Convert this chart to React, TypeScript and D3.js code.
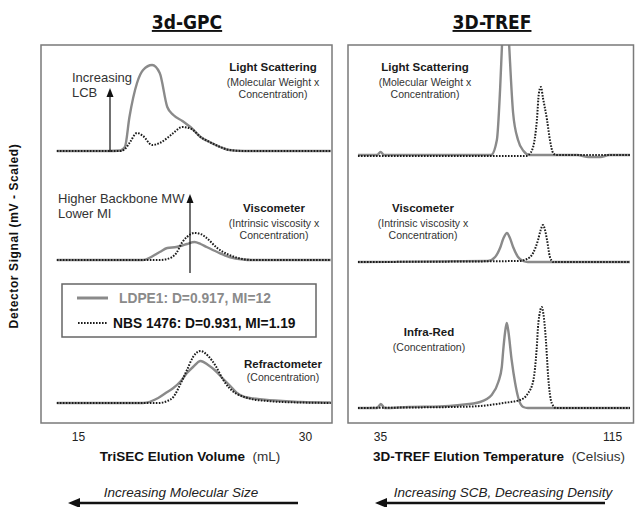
import React, { useEffect, useRef } from 'react';
import * as d3 from 'd3';

type Pt = [number, number];

// 3d-GPC traces: [elution volume mL, signal above the trace baseline]
const gpcTicks = [15, 30];
const gpcLsLdpe: Pt[] = [[13.6, 0], [17.0, 0], [17.8, 0.5], [18.1, 4], [18.4, 34], [18.9, 68], [19.3, 81], [19.9, 86], [20.4, 78], [20.9, 44], [21.3, 36], [21.9, 30], [22.5, 23], [23.1, 14], [23.7, 9], [24.4, 4], [25.0, 1], [26.0, 0], [31.7, 0]];
const gpcLsNbs: Pt[] = [[13.6, 0], [17.0, 0], [17.8, 0], [18.1, 2], [18.4, 8], [18.9, 18], [19.3, 15], [19.9, 6], [20.4, 8], [20.9, 13], [21.3, 18], [21.9, 24], [22.5, 22], [23.1, 14], [23.7, 9], [24.4, 4], [25.0, 1], [26.0, 0], [31.7, 0]];
const gpcViscLdpe: Pt[] = [[13.6, 0], [19.3, 0], [20.4, 8], [20.9, 12], [21.5, 13], [21.9, 14.5], [22.2, 16], [22.7, 18], [23.1, 16], [23.5, 13], [24.2, 8], [25.0, 3], [25.9, 0.5], [26.5, 0], [31.7, 0]];
const gpcViscNbs: Pt[] = [[13.6, 0], [19.3, 0], [20.4, 0], [20.9, 1], [21.5, 7], [21.9, 18], [22.2, 23], [22.7, 27], [23.1, 26], [23.5, 22], [24.2, 12], [25.0, 5], [25.9, 1], [26.5, 0], [31.7, 0]];
const gpcRiLdpe: Pt[] = [[13.6, 0], [19.3, 0], [20.3, 5], [20.9, 11], [21.3, 15], [21.8, 22], [22.2, 30], [22.6, 36], [23.1, 42], [23.6, 38], [24.1, 32], [24.6, 24], [25.0, 18], [25.5, 10], [26.0, 6], [26.6, 4.5], [27.5, 3], [28.5, 2], [29.7, 1], [31.7, 0.5]];
const gpcRiNbs: Pt[] = [[13.6, 0], [19.3, 0], [20.3, 0], [20.9, 2], [21.3, 6], [21.8, 20], [22.2, 33], [22.6, 46], [23.1, 52], [23.6, 47], [24.1, 37], [24.6, 23], [25.0, 15], [25.5, 9], [26.0, 6], [26.6, 3.5], [27.5, 2], [28.5, 1], [29.7, 0.5], [31.7, 0]];

// 3D-TREF traces: [elution temperature C, signal above the trace baseline]
const trefTicks = [35, 115];
const trefLsLdpe: Pt[] = [[27.4, 0], [34.0, 0], [35.2, 3], [36.4, 0], [73.3, 0], [75.3, 15], [76.4, 65], [77.1, 112], [78.3, 180], [79.5, 112], [80.9, 42], [82.6, 15], [84.5, 4], [86.5, 0], [103, 0], [107, -2], [111, -2], [114, 0], [121.2, 0]];
const trefLsNbs: Pt[] = [[27.4, -1], [85.5, -1], [86.2, 0], [87.8, 8], [89.1, 35], [89.8, 62], [90.5, 68], [91.2, 57], [92.6, 35], [93.6, 15], [94.7, 2], [95.7, 0], [121.2, 0]];
const trefViscLdpe: Pt[] = [[27.4, 0], [72.2, 1], [74.7, 5], [76.4, 14], [77.6, 24], [78.8, 29], [79.8, 24], [80.9, 15], [82.6, 5], [84.3, 1], [86.0, 0], [121.2, 0]];
const trefViscNbs: Pt[] = [[27.4, 0], [82.6, 1], [85.7, 3], [87.8, 9], [89.5, 22], [90.4, 32], [91.2, 37], [91.9, 32], [92.6, 22], [93.6, 5], [94.7, 0], [121.2, 0]];
const trefIrLdpe: Pt[] = [[27.4, 0], [34.0, 0], [35.3, 4], [36.6, 0], [45, 1], [55.7, 1.5], [62.6, 3], [69.5, 6], [73.5, 13], [75.8, 26], [77.0, 41], [77.5, 58], [78.1, 75], [78.7, 85], [79.2, 78], [80.4, 48], [81.6, 25], [82.7, 10], [84.4, 1], [86.0, 0], [121.2, 0]];
const trefIrNbs: Pt[] = [[27.4, 0], [45, 0.5], [60, 1], [69.5, 2], [77.5, 5], [83.3, 8], [86.1, 15], [87.9, 28], [89.0, 58], [89.6, 85], [90.8, 101], [91.3, 95], [92.2, 68], [93.0, 31], [94.2, 5], [95.7, 0], [121.2, 0]];

// baselines of the stacked detectors (same signal units)
const gpcOffsets = [272, 163, 20];
const trefOffsets = [268, 161, 15];

const legendLabels = ['LDPE1: D=0.917, MI=12', 'NBS 1476: D=0.931, MI=1.19'];

const FONT = "'Liberation Sans', Arial, sans-serif";
const GRAY = '#8a8a8a';
const DOT = '#1c1c1c';

const App = () => {
  const ref = useRef<SVGSVGElement | null>(null);

  useEffect(() => {
    const svg = d3.select(ref.current);
    svg.selectAll('*').remove();
    svg.style('font-family', FONT);

    const top = 45;
    const bottom = 423;
    const y = d3.scaleLinear().domain([0, 378]).range([bottom, top]);

    const gpcX = d3.scaleLinear().domain([15, 30]).range([78, 305]);
    const trefX = d3.scaleLinear().domain([35, 115]).range([380, 612]);

    const drawPanel = (id, x, x0, x1, traces, ticks) => {
      svg.append('clipPath').attr('id', id)
        .append('rect').attr('x', x0).attr('y', top).attr('width', x1 - x0).attr('height', bottom - top);

      const g = svg.append('g').attr('clip-path', `url(#${id})`);
      traces.forEach(t => {
        const line = d3.line<Pt>()
          .x(d => x(d[0]))
          .y(d => y(d[1] + t.offset))
          .curve(d3.curveMonotoneX);
        g.append('path')
          .attr('d', line(t.data))
          .attr('fill', 'none')
          .attr('stroke', t.dotted ? DOT : GRAY)
          .attr('stroke-width', t.dotted ? 2 : 2.4)
          .attr('stroke-dasharray', t.dotted ? '1.6,1.4' : null);
      });

      svg.append('rect')
        .attr('x', x0).attr('y', top).attr('width', x1 - x0).attr('height', bottom - top)
        .attr('fill', 'none').attr('stroke', '#7a7a7a').attr('stroke-width', 1.5);

      const axis = svg.append('g')
        .attr('transform', `translate(0,${bottom})`)
        .call(d3.axisBottom(x).tickValues(ticks).tickSize(0).tickPadding(9.5).tickFormat(d3.format('d')));
      axis.select('.domain').remove();
      axis.selectAll('text').attr('font-size', 12).attr('fill', '#222').style('font-family', FONT);
    };

    drawPanel('gpc-clip', gpcX, 41, 332, [
      { data: gpcLsLdpe, offset: gpcOffsets[0], dotted: false },
      { data: gpcLsNbs, offset: gpcOffsets[0], dotted: true },
      { data: gpcViscLdpe, offset: gpcOffsets[1], dotted: false },
      { data: gpcViscNbs, offset: gpcOffsets[1], dotted: true },
      { data: gpcRiLdpe, offset: gpcOffsets[2], dotted: false },
      { data: gpcRiNbs, offset: gpcOffsets[2], dotted: true },
    ], gpcTicks);

    drawPanel('tref-clip', trefX, 348, 633.5, [
      { data: trefLsLdpe, offset: trefOffsets[0], dotted: false },
      { data: trefLsNbs, offset: trefOffsets[0], dotted: true },
      { data: trefViscLdpe, offset: trefOffsets[1], dotted: false },
      { data: trefViscNbs, offset: trefOffsets[1], dotted: true },
      { data: trefIrLdpe, offset: trefOffsets[2], dotted: false },
      { data: trefIrNbs, offset: trefOffsets[2], dotted: true },
    ], trefTicks);

    // titles
    const title = (x, text) => svg.append('text')
      .attr('x', x).attr('y', 29)
      .attr('text-anchor', 'middle')
      .style('font-family', "'Liberation Sans Narrow', 'Arial Narrow', 'DejaVu Sans Condensed', sans-serif")
      .style('font-size', '19px').style('font-weight', 'bold')
      .style('text-decoration', 'underline')
      .attr('fill', '#111')
      .text(text);
    title(187, '3d-GPC');
    title(492, '3D-TREF');

    // detector labels
    const label = (x, ys, lines) => {
      lines.forEach((l, i) => {
        svg.append('text')
          .attr('x', x).attr('y', ys[i])
          .attr('text-anchor', 'middle')
          .attr('font-size', i === 0 ? 11.5 : 10.5)
          .attr('font-weight', i === 0 ? 'bold' : 'normal')
          .attr('fill', i === 0 ? '#1a1a1a' : '#333')
          .text(l);
      });
    };
    label(273, [71, 86, 98], ['Light Scattering', '(Molecular Weight x', 'Concentration)']);
    label(274, [212, 227, 239], ['Viscometer', '(Intrinsic viscosity x', 'Concentration)']);
    label(283, [368, 381], ['Refractometer', '(Concentration)']);
    label(425, [71, 86, 98], ['Light Scattering', '(Molecular Weight x', 'Concentration)']);
    label(423, [212, 227, 239], ['Viscometer', '(Intrinsic viscosity x', 'Concentration)']);
    label(429, [336, 351], ['Infra-Red', '(Concentration)']);

    // annotations with up arrows
    const upArrow = (x, y0, y1) => {
      svg.append('line').attr('x1', x).attr('x2', x).attr('y1', y0).attr('y2', y1 + 6)
        .attr('stroke', '#111').attr('stroke-width', 1.2);
      svg.append('path')
        .attr('d', `M${x},${y1} L${x - 3.5},${y1 + 9} L${x + 3.5},${y1 + 9} Z`)
        .attr('fill', '#111');
    };
    upArrow(110, 152, 88);
    upArrow(190, 273, 194);

    const note = (x, yy, text) => svg.append('text')
      .attr('x', x).attr('y', yy).attr('font-size', 13).attr('fill', '#333').text(text);
    note(72, 82, 'Increasing');
    note(72, 97, 'LCB');
    note(58, 203, 'Higher Backbone MW');
    note(58, 218, 'Lower MI');

    // legend
    svg.append('rect').attr('x', 62).attr('y', 284).attr('width', 254).attr('height', 53)
      .attr('fill', 'white').attr('stroke', '#666').attr('stroke-width', 1.5);
    svg.append('line').attr('x1', 77).attr('x2', 108).attr('y1', 298).attr('y2', 298)
      .attr('stroke', GRAY).attr('stroke-width', 3);
    svg.append('line').attr('x1', 78).attr('x2', 107).attr('y1', 323).attr('y2', 323)
      .attr('stroke', DOT).attr('stroke-width', 2.2).attr('stroke-dasharray', '1.6,1.4');
    svg.append('text').attr('x', 119).attr('y', 303).attr('font-size', 13.8).attr('font-weight', 'bold')
      .attr('fill', '#8a8a8a').text(legendLabels[0]);
    svg.append('text').attr('x', 113).attr('y', 328).attr('font-size', 13.8).attr('font-weight', 'bold')
      .attr('fill', '#111').text(legendLabels[1]);

    // y label
    svg.append('text')
      .attr('transform', 'translate(18,236) rotate(-90)')
      .attr('text-anchor', 'middle')
      .attr('font-size', 12).attr('font-weight', 'bold')
      .attr('letter-spacing', 0.6)
      .attr('fill', '#111')
      .text('Detector Signal (mV - Scaled)');

    // x titles
    const xTitle = (x, bold, unit) => {
      const t = svg.append('text').attr('x', x).attr('y', 461).attr('text-anchor', 'middle')
        .attr('font-size', 13.5).attr('fill', '#111');
      t.append('tspan').attr('font-weight', 'bold').text(bold);
      t.append('tspan').attr('fill', '#333').text('\u00a0 ' + unit);
    };
    xTitle(190, 'TriSEC Elution Volume', '(mL)');
    xTitle(499, '3D-TREF Elution Temperature', '(Celsius)');

    // direction arrows
    const leftArrow = (x0, x1, cx, text) => {
      svg.append('text').attr('x', cx).attr('y', 497).attr('text-anchor', 'middle')
        .attr('font-size', 13.5).attr('font-style', 'italic').attr('fill', '#222').text(text);
      svg.append('line').attr('x1', x0 + 10).attr('x2', x1).attr('y1', 503).attr('y2', 503)
        .attr('stroke', '#111').attr('stroke-width', 2.5);
      svg.append('path').attr('d', `M${x0},503 L${x0 + 12},498 L${x0 + 12},508 Z`).attr('fill', '#111');
    };
    leftArrow(68, 298, 181, 'Increasing Molecular Size');
    leftArrow(375, 605, 503, 'Increasing SCB, Decreasing Density');
  }, []);

  return (
    <div style={{ position: 'absolute', left: 0, top: 0 }}>
      <svg ref={ref} width={635} height={507} style={{ display: 'block', background: 'white' }} />
    </div>
  );
};

export default App;
